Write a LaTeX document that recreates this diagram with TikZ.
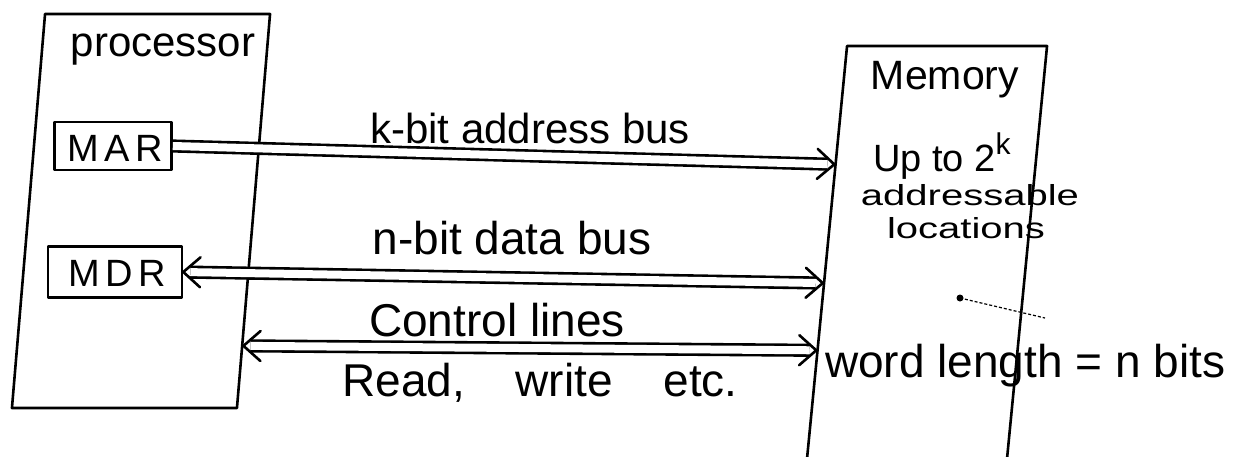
\documentclass[tikz,border=0pt]{standalone}
\usepackage{fontspec}
\setmainfont{Liberation Sans}
\usetikzlibrary{calc}

% open head at the end of a double-line bus: #1 = where the bus comes from, #2 = its tip
\newcommand\bushead[2]{%
  \coordinate (hb) at ($(#2)!17pt!(#1)$);
  \draw[pen] ($(hb)!15pt!90:(#2)$) -- (#2) -- ($(hb)!15pt!-90:(#2)$);}

\begin{document}
\begin{tikzpicture}[x=1pt,y=-1pt,
  pen/.style={line width=2.6pt, black, line cap=round, line join=round},
  unit/.style={pen, draw, inner sep=0pt, transform shape},
  reg/.style={pen, draw, inner sep=0pt},
  bus/.style={pen, line cap=butt, double=white, double distance=8pt},
  lbl/.style={inner sep=0pt, text=black},
]
% page and paper
\useasboundingbox (0,0) rectangle (1240,456);
\fill[white] (0,0) rectangle (1240,456);
\clip (0,0) rectangle (1240,456);

% the two units, drawn by hand so slightly leaning
\node[unit, xslant=0.084, minimum width=225pt, minimum height=394pt] (proc) at (141,211) {};
\node[unit, xslant=0.097, minimum width=200pt, minimum height=434pt] (mem) at (926,263) {};

% registers inside the processor
\node[reg, minimum width=117pt, minimum height=48pt] (mar) at (113,146) {};
\node[reg, minimum width=134pt, minimum height=51pt] (mdr) at (115,272) {};

% unit and register names
\node[lbl, font=\fontsize{42}{46}\selectfont] (ptitle) at (163,50) {processor};
\node[lbl, font=\fontsize{38}{40}\selectfont\addfontfeature{LetterSpace=14}] (martext) at (115,148) {MAR};
\node[lbl, font=\fontsize{38}{40}\selectfont\addfontfeature{LetterSpace=14}] (mdrtext) at (117,273) {MDR};
\node[lbl, font=\fontsize{41}{44}\selectfont] (mtitle) at (945,80) {Memory};

% memory contents
\node[lbl, font=\fontsize{38}{42}\selectfont, anchor=west] (upto) at (873,156)
  {Up to 2\raisebox{0.45em}{\fontsize{30}{30}\selectfont k}};
\node[lbl, font=\fontsize{29}{31}\selectfont\addfontfeature{FakeStretch=1.38}] (addr) at (970,195) {addressable};
\node[lbl, font=\fontsize{29}{31}\selectfont\addfontfeature{FakeStretch=1.38}] (locs) at (966,228) {locations};
\node[lbl, font=\fontsize{46}{50}\selectfont, anchor=west] (wlen) at (825,366) {word length = n bits};

% stray pen mark
\fill (960,298) circle (3.5);
\draw[densely dashed, line width=1.2pt] (960,298) -- (1045,318);

% bus end points on the unit edges
\coordinate (aend) at ($(mem.north west)!0.274!(mem.south west)$);
\coordinate (dend) at ($(mem.north west)!0.546!(mem.south west)$);
\coordinate (cbeg) at ($(proc.north east)!0.84!(proc.south east)$);
\coordinate (cend) at ($(mem.north west)!0.70!(mem.south west)$);

% address bus: processor -> memory
\draw[bus, shorten >=7pt] (mar.east) -- (aend);
\bushead{mar.east}{aend}
% data bus: both ways
\draw[bus, shorten >=7pt, shorten <=7pt] (mdr.east) -- (dend);
\bushead{mdr.east}{dend}
\bushead{dend}{mdr.east}
% control lines: both ways
\draw[bus, shorten >=7pt, shorten <=7pt] (cbeg) -- (cend);
\bushead{cbeg}{cend}
\bushead{cend}{cbeg}

% bus labels
\node[lbl, font=\fontsize{42}{46}\selectfont] (abus) at (530,128) {k-bit address bus};
\node[lbl, font=\fontsize{46}{50}\selectfont] (dbus) at (512,238) {n-bit data bus};
\node[lbl, font=\fontsize{46}{50}\selectfont] (cbus) at (497,320) {Control lines};
\node[lbl, font=\fontsize{46}{50}\selectfont] (rw) at (540,383) {Read,\hspace{1.1em}write\hspace{1.1em}etc.};
\end{tikzpicture}
\end{document}
